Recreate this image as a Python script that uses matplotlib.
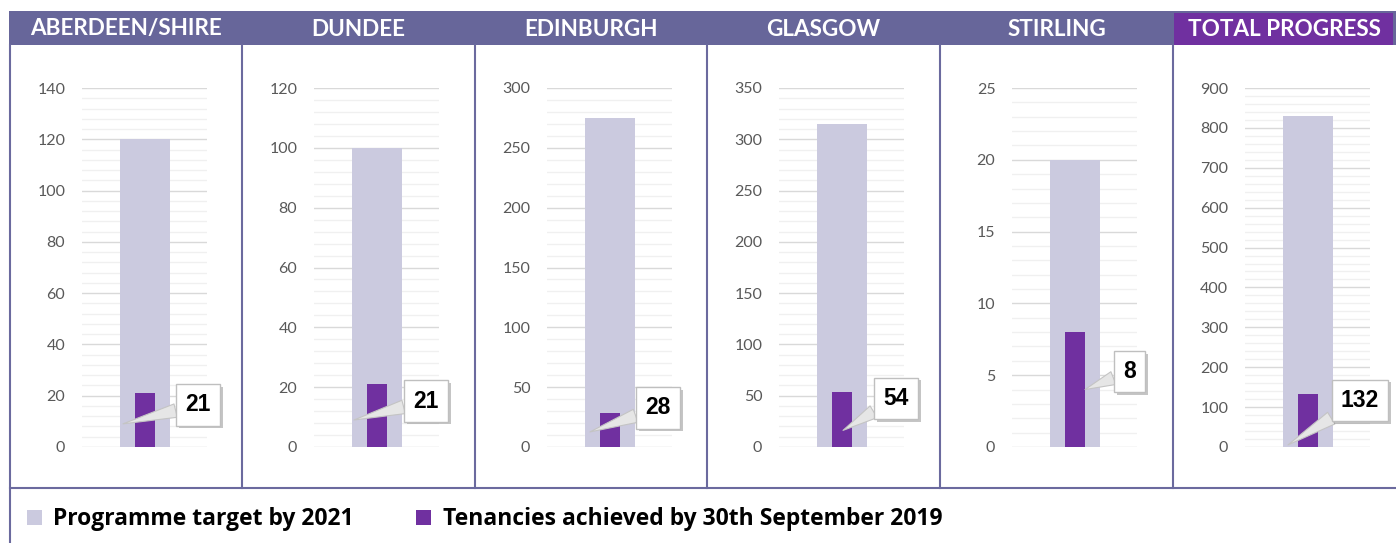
import matplotlib
matplotlib.use("Agg")
import matplotlib.pyplot as plt
import matplotlib.patheffects as pe
from matplotlib.patches import Rectangle
from matplotlib.lines import Line2D
from matplotlib.ticker import MultipleLocator

# --- data ---
regions = ["ABERDEEN/SHIRE", "DUNDEE", "EDINBURGH", "GLASGOW", "STIRLING"]
targets = [120, 100, 275, 315, 20]
achieved = [21, 21, 28, 54, 8]
total_label = "TOTAL PROGRESS"
axis_max = [140, 120, 300, 350, 25, 900]
axis_step = [20, 20, 50, 50, 5, 100]
legend_labels = ["Programme target by 2021", "Tenancies achieved by 30th September 2019"]

# --- style ---
W, H = 1396, 543
BAND = "#67669A"
PURPLE = "#7030A0"
TARGET_C = "#CBCADF"
FRAME = "#6B6A9E"
FONT = "Lato"

# callout placement per panel: (box x, box y axes-frac, tip x, tip frac of value)
callouts = [(1.07, 0.117, -0.43, 0.43), (0.99, 0.128, -0.45, 0.43),
            (0.97, 0.109, -0.39, 0.45), (1.09, 0.136, 0.03, 0.30),
            (1.10, 0.210, 0.21, 0.50), (1.05, 0.130, -0.39, 0.04)]

panel_x = [10, 242, 475, 707, 940, 1173]


def fx(x):
    return x / W


def fy(y):
    return 1 - y / H


fig = plt.figure(figsize=(W / 100, H / 100), dpi=100)
fig.patch.set_facecolor("white")

# header band
fig.add_artist(Rectangle((fx(9), fy(45)), fx(W - 9), (45 - 11) / H,
                         transform=fig.transFigure, fc=BAND, ec="none"))
fig.add_artist(Rectangle((fx(1174), fy(45)), fx(1393 - 1174), (45 - 13) / H,
                         transform=fig.transFigure, fc=PURPLE, ec="none"))

# frame lines
for x in panel_x[1:]:
    fig.add_artist(Line2D([fx(x), fx(x)], [fy(45), fy(488)], transform=fig.transFigure,
                          color=FRAME, lw=1.5))
fig.add_artist(Line2D([fx(10), fx(10)], [fy(45), fy(543)], transform=fig.transFigure,
                      color=FRAME, lw=1.5))
fig.add_artist(Line2D([fx(10), fx(W)], [fy(488), fy(488)], transform=fig.transFigure,
                      color=FRAME, lw=1.5))

names = regions + [total_label]
tvals = targets + [sum(targets)]
avals = achieved + [sum(achieved)]

for i, name in enumerate(names):
    x0 = panel_x[i]
    x1 = panel_x[i + 1] if i + 1 < len(panel_x) else W
    fig.text(fx((x0 + x1) / 2), fy(29), name, color="white", fontsize=16.2,
             fontweight="bold", family=FONT, ha="center", va="center")

    ax = fig.add_axes([fx(x0 + 72), fy(447), 125 / W, 359 / H])
    ax.set_xlim(-1.25, 1.25)
    ax.set_ylim(0, axis_max[i])
    ax.yaxis.set_major_locator(MultipleLocator(axis_step[i]))
    ax.yaxis.set_minor_locator(MultipleLocator(axis_step[i] / 5))
    ax.grid(which="major", axis="y", color="#D9D9D9", lw=1)
    ax.grid(which="minor", axis="y", color="#F0F0F0", lw=1)
    ax.set_axisbelow(True)
    for s in ax.spines.values():
        s.set_visible(False)
    ax.set_xticks([])
    ax.tick_params(axis="y", which="both", length=0, pad=12, labelsize=11.5,
                   labelcolor="#595959")
    for lab in ax.get_yticklabels():
        lab.set_family(FONT)

    ax.bar([0], [tvals[i]], width=1.0, color=TARGET_C, zorder=2)
    ax.bar([0], [avals[i]], width=0.4, color=PURPLE, zorder=3)

    bx, by, tx, tf = callouts[i]
    ann = ax.annotate(str(avals[i]), xy=(tx, tf * avals[i]), xycoords="data",
                      xytext=(bx, by), textcoords=("data", "axes fraction"),
                      ha="center", va="center", fontsize=16.5, fontweight="bold",
                      family=["Liberation Sans", "DejaVu Sans"], color="black",
                      annotation_clip=False, zorder=5,
                      bbox=dict(boxstyle="square,pad=0.4", fc="white", ec="#BFBFBF", lw=1),
                      arrowprops=dict(arrowstyle="wedge,tail_width=0.6", fc="#E6E6E6",
                                      ec="#C4C4C4", lw=0.8, shrinkA=0, shrinkB=0))
    ann.get_bbox_patch().set_path_effects(
        [pe.withSimplePatchShadow(offset=(2, -2), shadow_rgbFace="#8C8C8C", alpha=0.5)])

# legend
leg_colors = [TARGET_C, PURPLE]
leg_sq_x = [27, 416]
leg_txt_x = [53, 443]
for c, sx, tx, lab in zip(leg_colors, leg_sq_x, leg_txt_x, legend_labels):
    fig.add_artist(Rectangle((fx(sx), fy(525)), 15 / W, 15 / H, transform=fig.transFigure,
                             fc=c, ec="none"))
    fig.text(fx(tx), fy(519), lab, fontsize=16.5, fontweight="bold", family="Open Sans",
             ha="left", va="center", color="black")

fig.savefig("out.png", dpi=100)
